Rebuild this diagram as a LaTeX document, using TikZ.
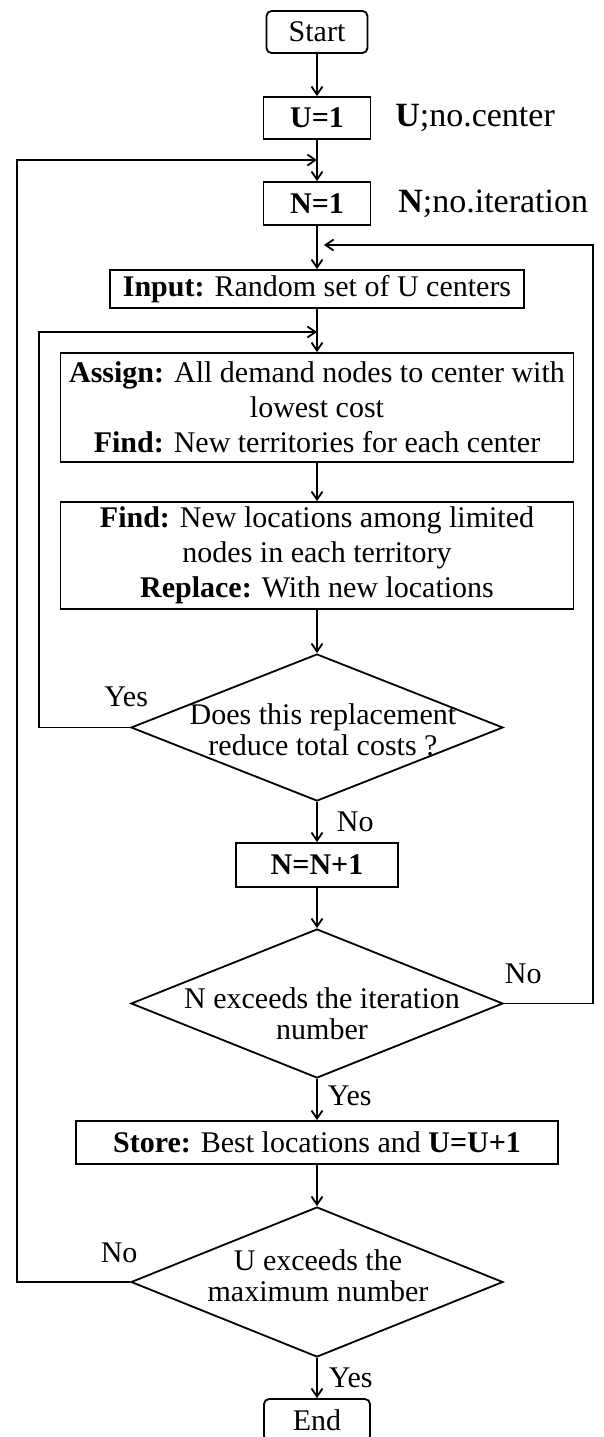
\documentclass[tikz,border=0pt]{standalone}
\usepackage{fontspec}
\setmainfont{Liberation Serif}
\usetikzlibrary{shapes.geometric,arrows.meta,positioning}

\tikzset{
	proc/.style={draw, line width=0.9pt, inner sep=0pt, align=center, font=\fontsize{15}{17.5}\selectfont},
	term/.style={proc, rounded corners=2.5pt},
	decision/.style={draw, diamond, line width=0.9pt, inner sep=0pt, minimum width=186pt},
	dtext/.style={align=center, inner sep=0pt, font=\fontsize{15}{15.5}\selectfont},
	note/.style={inner sep=0pt, font=\fontsize{17}{20}\selectfont},
	lbl/.style={inner sep=0pt, font=\fontsize{15}{17}\selectfont},
}

\begin{document}
\begin{tikzpicture}[x=0.5pt, y=-0.5pt, >={Straight Barb[length=4pt,width=5.5pt]}, line width=0.9pt]
	\useasboundingbox (0,0) rectangle (604,1437);
	\node[term, minimum width=50.5pt, minimum height=21pt] (start) at (317,32) {Start};
	\node[proc, minimum width=53.5pt, minimum height=21pt] (uone) at (317,118) {\textbf{U=1}};
	\node[proc, minimum width=53.5pt, minimum height=21.5pt] (none) at (317,203.5) {\textbf{N=1}};
	\node[note, right=11.5pt of uone] (unote) {\textbf{U};no.center};
	\node[note, right=13pt of none] (nnote) {\textbf{N};no.iteration};
	\node[proc, minimum width=207pt, minimum height=19pt] (input) at (317,289) {\textbf{Input:} Random set of U centers};
	\node[proc, minimum width=256.5pt, minimum height=54.5pt] (assign) at (317,407.5)
		{\textbf{Assign:} All demand nodes to center with\\lowest cost\\\textbf{Find:} New territories for each center};
	\node[proc, minimum width=256.5pt, minimum height=53.5pt] (find) at (317,555.5)
		{\textbf{Find:} New locations among limited\\nodes in each territory\\\textbf{Replace:} With new locations};
	\node[decision, minimum height=73.5pt] (dcost) at (317,727.5) {};
	\node[dtext, xshift=3pt, yshift=-1pt] (tcost) at (dcost) {Does this replacement\\reduce total costs ?};
	\node[proc, minimum width=81pt, minimum height=22pt] (ninc) at (317,865) {\textbf{N=N+1}};
	\node[decision, minimum height=74.5pt] (diter) at (317,1003.5) {};
	\node[dtext, xshift=2.5pt, yshift=-5pt] (titer) at (diter) {N exceeds the iteration\\number};
	\node[proc, minimum width=241pt, minimum height=21.5pt] (store) at (317,1142.5) {\textbf{Store:} Best locations and \textbf{U=U+1}};
	\node[decision, minimum height=75pt] (dmax) at (317,1282) {};
	\node[dtext, xshift=0.5pt, yshift=3pt] (tmax) at (dmax) {U exceeds the\\maximum number};
	\node[term, minimum width=53pt, minimum height=21pt] (end) at (317,1420) {End};

	\coordinate (cu) at (17,160);
	\coordinate (mu) at (317,160);
	\coordinate (cn) at (593,245);
	\coordinate (mn) at (324,245);
	\coordinate (ci) at (39,332);
	\coordinate (mi) at (317,332);

	\draw[->] (start) -- (uone);
	\draw[->] (uone) -- (none);
	\draw[->] (none) -- (input);
	\draw[->] (input) -- (assign);
	\draw[->] (assign) -- (find);
	\draw[->] (find) -- (dcost);
	\draw[->] (dcost) -- node[lbl, right=9.5pt]{No} (ninc);
	\draw[->] (ninc) -- (diter);
	\draw[->] (diter) -- node[lbl, right=5pt, yshift=2pt]{Yes} (store);
	\draw[->] (store) -- (dmax);
	\draw[->] (dmax) -- node[lbl, right=5.5pt]{Yes} (end);

	\draw[->] (dcost.west) node[lbl, anchor=south, xshift=-2pt, yshift=10pt]{Yes} -| (ci) -- (mi);
	\draw[->] (diter.east) node[lbl, anchor=south, xshift=9.7pt, yshift=9.2pt]{No} -| (cn) -- (mn);
	\draw[->] (dmax.west) node[lbl, anchor=south, xshift=-5.5pt, yshift=9pt]{No} -| (cu) -- (mu);
\end{tikzpicture}
\end{document}
